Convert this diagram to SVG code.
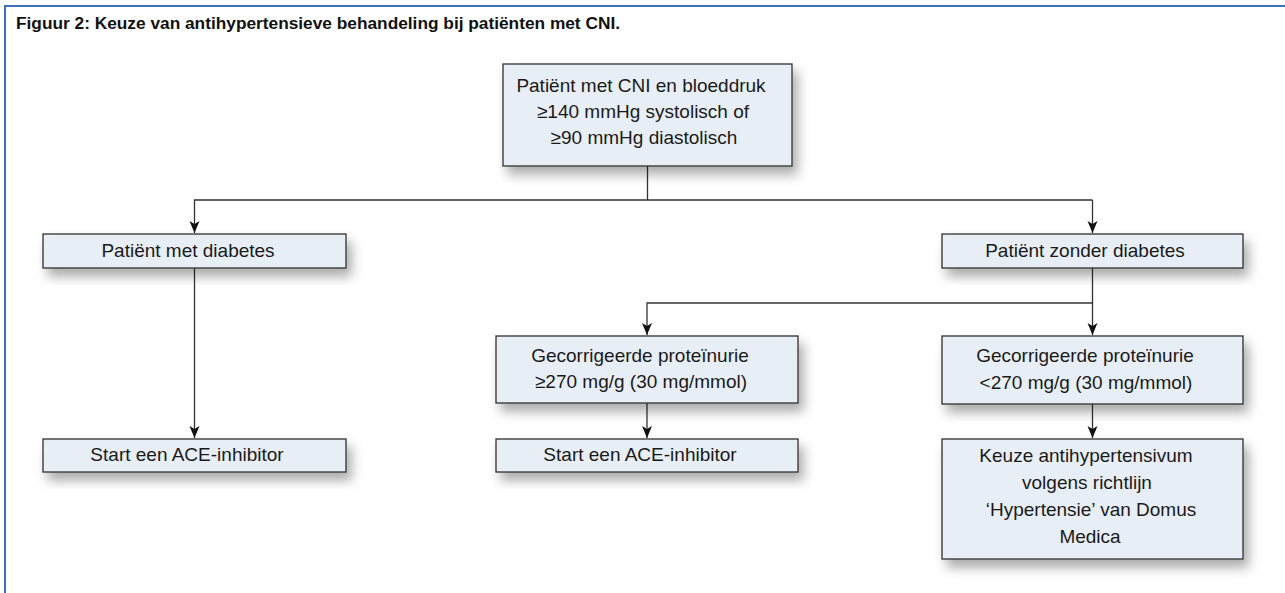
<svg xmlns="http://www.w3.org/2000/svg" width="1285" height="593" viewBox="0 0 1285 593">
<style>
.box{fill:#e8eef5;stroke:#2e2e2e;stroke-width:1.3;filter:url(#sh)}
.t{font-family:"Liberation Sans",Arial,sans-serif;font-size:19px;fill:#1a1a1a;text-anchor:middle}
.title{font-family:"Liberation Sans",Arial,sans-serif;font-size:16px;font-weight:bold;fill:#111}
.c{fill:none;stroke:#333;stroke-width:1.3}
</style>
<defs>
<filter id="sh" x="-10%" y="-20%" width="130%" height="170%">
<feDropShadow dx="5" dy="8" stdDeviation="6" flood-color="#000" flood-opacity="0.33"/>
</filter>
<marker id="ah" viewBox="0 0 12 12" refX="12" refY="6" markerWidth="12" markerHeight="12" markerUnits="userSpaceOnUse" orient="auto">
<path d="M0,1 L12,6 L0,11 L3,6 Z" fill="#111"/>
</marker>
</defs>
<rect width="1285" height="593" fill="#fff"/>
<path d="M5,593 V6 H1285" fill="none" stroke="#3b73b9" stroke-width="2"/>
<text class="title" x="16" y="29" textLength="604" lengthAdjust="spacingAndGlyphs">Figuur 2: Keuze van antihypertensieve behandeling bij patiënten met CNI.</text>

<g id="connectors">
<path class="c" d="M647.5,166 V200"/>
<path class="c" d="M1092.5,200 H194.5 V233" marker-end="url(#ah)"/>
<path class="c" d="M1092.5,200 V233" marker-end="url(#ah)"/>
<path class="c" d="M1092.5,268 V335" marker-end="url(#ah)"/>
<path class="c" d="M1092.5,303 H647 V335" marker-end="url(#ah)"/>
<path class="c" d="M194.5,268 V438" marker-end="url(#ah)"/>
<path class="c" d="M647,403 V438" marker-end="url(#ah)"/>
<path class="c" d="M1092.5,404 V438" marker-end="url(#ah)"/>
</g>

<g id="n-start">
<rect class="box" x="503" y="64" width="289" height="102"/>
<text class="t" x="641" y="92">Patiënt met CNI en bloeddruk</text>
<text class="t" x="643" y="118">≥140 mmHg systolisch of</text>
<text class="t" x="644" y="144">≥90 mmHg diastolisch</text>
</g>
<g id="n-met-diabetes">
<rect class="box" x="43" y="234" width="303" height="34"/>
<text class="t" x="188" y="257">Patiënt met diabetes</text>
</g>
<g id="n-zonder-diabetes">
<rect class="box" x="942" y="234" width="301" height="34"/>
<text class="t" x="1085" y="257">Patiënt zonder diabetes</text>
</g>
<g id="n-prot-high">
<rect class="box" x="496" y="336" width="302" height="67"/>
<text class="t" x="640" y="362">Gecorrigeerde proteïnurie</text>
<text class="t" x="641" y="388">≥270 mg/g (30 mg/mmol)</text>
</g>
<g id="n-prot-low">
<rect class="box" x="942" y="336" width="301" height="68"/>
<text class="t" x="1085" y="362">Gecorrigeerde proteïnurie</text>
<text class="t" x="1086" y="389">&lt;270 mg/g (30 mg/mmol)</text>
</g>
<g id="n-ace-left">
<rect class="box" x="43" y="439" width="303" height="33"/>
<text class="t" x="187" y="461">Start een ACE-inhibitor</text>
</g>
<g id="n-ace-mid">
<rect class="box" x="496" y="439" width="302" height="33"/>
<text class="t" x="640" y="461">Start een ACE-inhibitor</text>
</g>
<g id="n-keuze">
<rect class="box" x="942" y="439" width="301" height="120"/>
<text class="t" x="1086" y="462">Keuze antihypertensivum</text>
<text class="t" x="1087" y="489">volgens richtlijn</text>
<text class="t" x="1091" y="516">‘Hypertensie’ van Domus</text>
<text class="t" x="1090" y="543">Medica</text>
</g>
</svg>
